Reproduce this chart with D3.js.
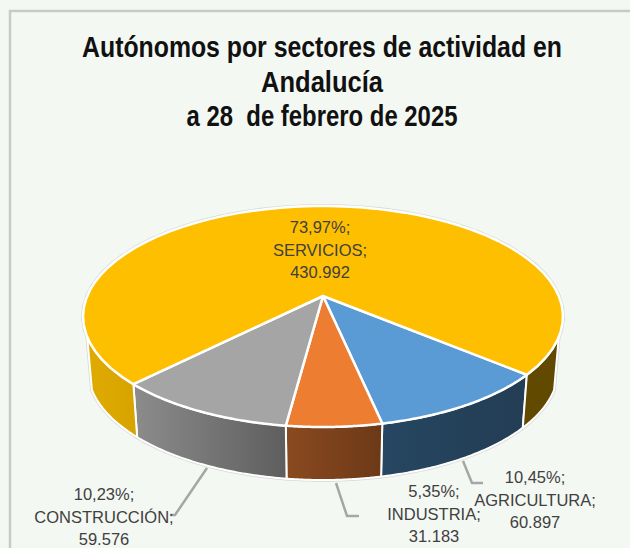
<!DOCTYPE html>
<html>
<head>
<meta charset="utf-8">
<style>
  html, body { margin: 0; padding: 0; background: #f4f8f2; overflow: hidden; }
  svg { display: block; }
  .title { font-family: "Liberation Sans", sans-serif; font-weight: 700; font-size: 29px; fill: #111; text-anchor: middle; white-space: pre; }
  .label { font-family: "Liberation Sans", sans-serif; font-size: 16.5px; fill: #404040; text-anchor: middle; }
</style>
</head>
<body>
<svg id="chart" width="630" height="548"></svg>
<script src="https://cdn.jsdelivr.net/npm/d3@7"></script>
<script>
// data
const sectors = ['AGRICULTURA', 'INDUSTRIA', 'CONSTRUCCIÓN', 'SERVICIOS']
const counts = [60897, 31183, 59576, 430992]
const shares = ['10,45%', '5,35%', '10,23%', '73,97%']
const countLabels = ['60.897', '31.183', '59.576', '430.992']
const titleLines = ['Autónomos por sectores de actividad en', 'Andalucía', 'a 28  de febrero de 2025']

// the title font is condensed in the original, so squeeze to the measured widths
const titleWidths = [480, 122, 271]

const topColors = ['#5b9bd5', '#ed7d31', '#a5a5a5', '#fdbf00']
const wallColors = [
  ['#264661', '#233d54'],
  ['#8a4a20', '#6c3917'],
  ['#8c8c8c', '#5e5e5e'],
  ['#e0ab00', '#d6a300']
]
const servicesRightWall = '#614a00'

// label placement, one row per sector
const labelX = [535, 434, 104, 320]
const labelY = [483, 497, 500, 233]
const leaders = [
  [[463, 461], [472, 483], [483, 483]],
  [[336, 483], [347, 516], [359, 516]],
  [[207, 468], [175, 515], [170, 515]],
  null
]

// perspective disc, measured on the picture
const apex = { x: 323, y: 296 }
const persp = 0.1855
const discA = 235.8
const discB = 106.7
const depth = 53
const bottomScale = 0.98
const firstAngle = 130.5 * Math.PI / 180
// where the side wall starts to show, past the widest point of the rim
const wallEdge = Math.acos(-0.359)

function project (angle) {
  const w = 1 + persp * Math.cos(angle)
  return [apex.x + discA * Math.sin(angle) / w, apex.y - discB * Math.cos(angle) / w]
}

function projectBottom (angle) {
  const [x, y] = project(angle)
  return [apex.x + (x - apex.x) * bottomScale, y + depth]
}

function sample (a0, a1) {
  return d3.range(0, 61).map(i => a0 + (a1 - a0) * i / 60)
}

function wallPath (d) {
  const angles = sample(d.a0, d.a1)
  return line(angles.map(project).concat(angles.slice().reverse().map(projectBottom))) + 'Z'
}

const line = d3.line()

const svg = d3.select('#chart')
const defs = svg.append('defs')

const slices = d3.pie()
  .sort(null)
  .startAngle(firstAngle)
  .endAngle(firstAngle + 2 * Math.PI)(counts)

// chart frame
svg.append('path')
  .attr('d', 'M10,548V11H630')
  .attr('fill', 'none')
  .attr('stroke', '#c8cac6')
  .attr('stroke-width', 2.5)

svg.selectAll('.title')
  .data(titleLines)
  .enter()
  .append('text')
  .attr('class', 'title')
  .text(d => d)
  .attr('transform', function (d, i) {
    const sx = titleWidths[i] / this.getComputedTextLength()
    return `translate(322, ${57 + i * 34.7}) scale(${sx}, 1)`
  })

wallColors.forEach((c, i) => {
  const g = defs.append('linearGradient').attr('id', `wall${i}`)
  g.append('stop').attr('offset', 0).attr('stop-color', c[0])
  g.append('stop').attr('offset', 1).attr('stop-color', c[1])
})

// walls are only drawn on the front part of the rim
const walls = []
slices.forEach((d, i) => {
  if (i < 3) {
    walls.push({ a0: d.startAngle, a1: d.endAngle, fill: `url(#wall${i})` })
  } else {
    walls.push({ a0: d.startAngle, a1: 2 * Math.PI - wallEdge, fill: `url(#wall${i})` })
    walls.push({ a0: wallEdge + 2 * Math.PI, a1: d.endAngle, fill: servicesRightWall })
  }
})

// faint grey halo round the whole solid
svg.selectAll('.halo')
  .data(walls)
  .enter()
  .append('path')
  .attr('class', 'halo')
  .attr('fill', 'none')
  .attr('stroke', '#d6d8d4')
  .attr('stroke-width', 3.5)
  .attr('d', wallPath)

svg.append('path')
  .attr('class', 'halo')
  .attr('fill', 'none')
  .attr('stroke', '#d6d8d4')
  .attr('stroke-width', 4)
  .attr('d', line(sample(0, 2 * Math.PI).map(project)) + 'Z')

svg.selectAll('.wall')
  .data(walls)
  .enter()
  .append('path')
  .attr('class', 'wall')
  .attr('fill', d => d.fill)
  .attr('stroke', '#fff')
  .attr('stroke-width', 2)
  .attr('stroke-linejoin', 'round')
  .attr('d', wallPath)

svg.selectAll('.face')
  .data(slices)
  .enter()
  .append('path')
  .attr('class', 'face')
  .attr('fill', (d, i) => topColors[i])
  .attr('stroke', '#fff')
  .attr('stroke-width', 2.5)
  .attr('stroke-linejoin', 'round')
  .attr('d', d => line([[apex.x, apex.y]].concat(sample(d.startAngle, d.endAngle).map(project))) + 'Z')

svg.selectAll('.leader')
  .data(leaders.filter(d => d))
  .enter()
  .append('path')
  .attr('class', 'leader')
  .attr('fill', 'none')
  .attr('stroke', '#a6a6a6')
  .attr('stroke-width', 2.5)
  .attr('d', d => line(d))

sectors.forEach((name, i) => {
  const rows = [shares[i] + ';', name + ';', countLabels[i]]
  svg.selectAll(null)
    .data(rows)
    .enter()
    .append('text')
    .attr('class', 'label')
    .attr('x', labelX[i])
    .attr('y', (d, j) => labelY[i] + j * 22.5)
    .text(d => d)
})
</script>
</body>
</html>
